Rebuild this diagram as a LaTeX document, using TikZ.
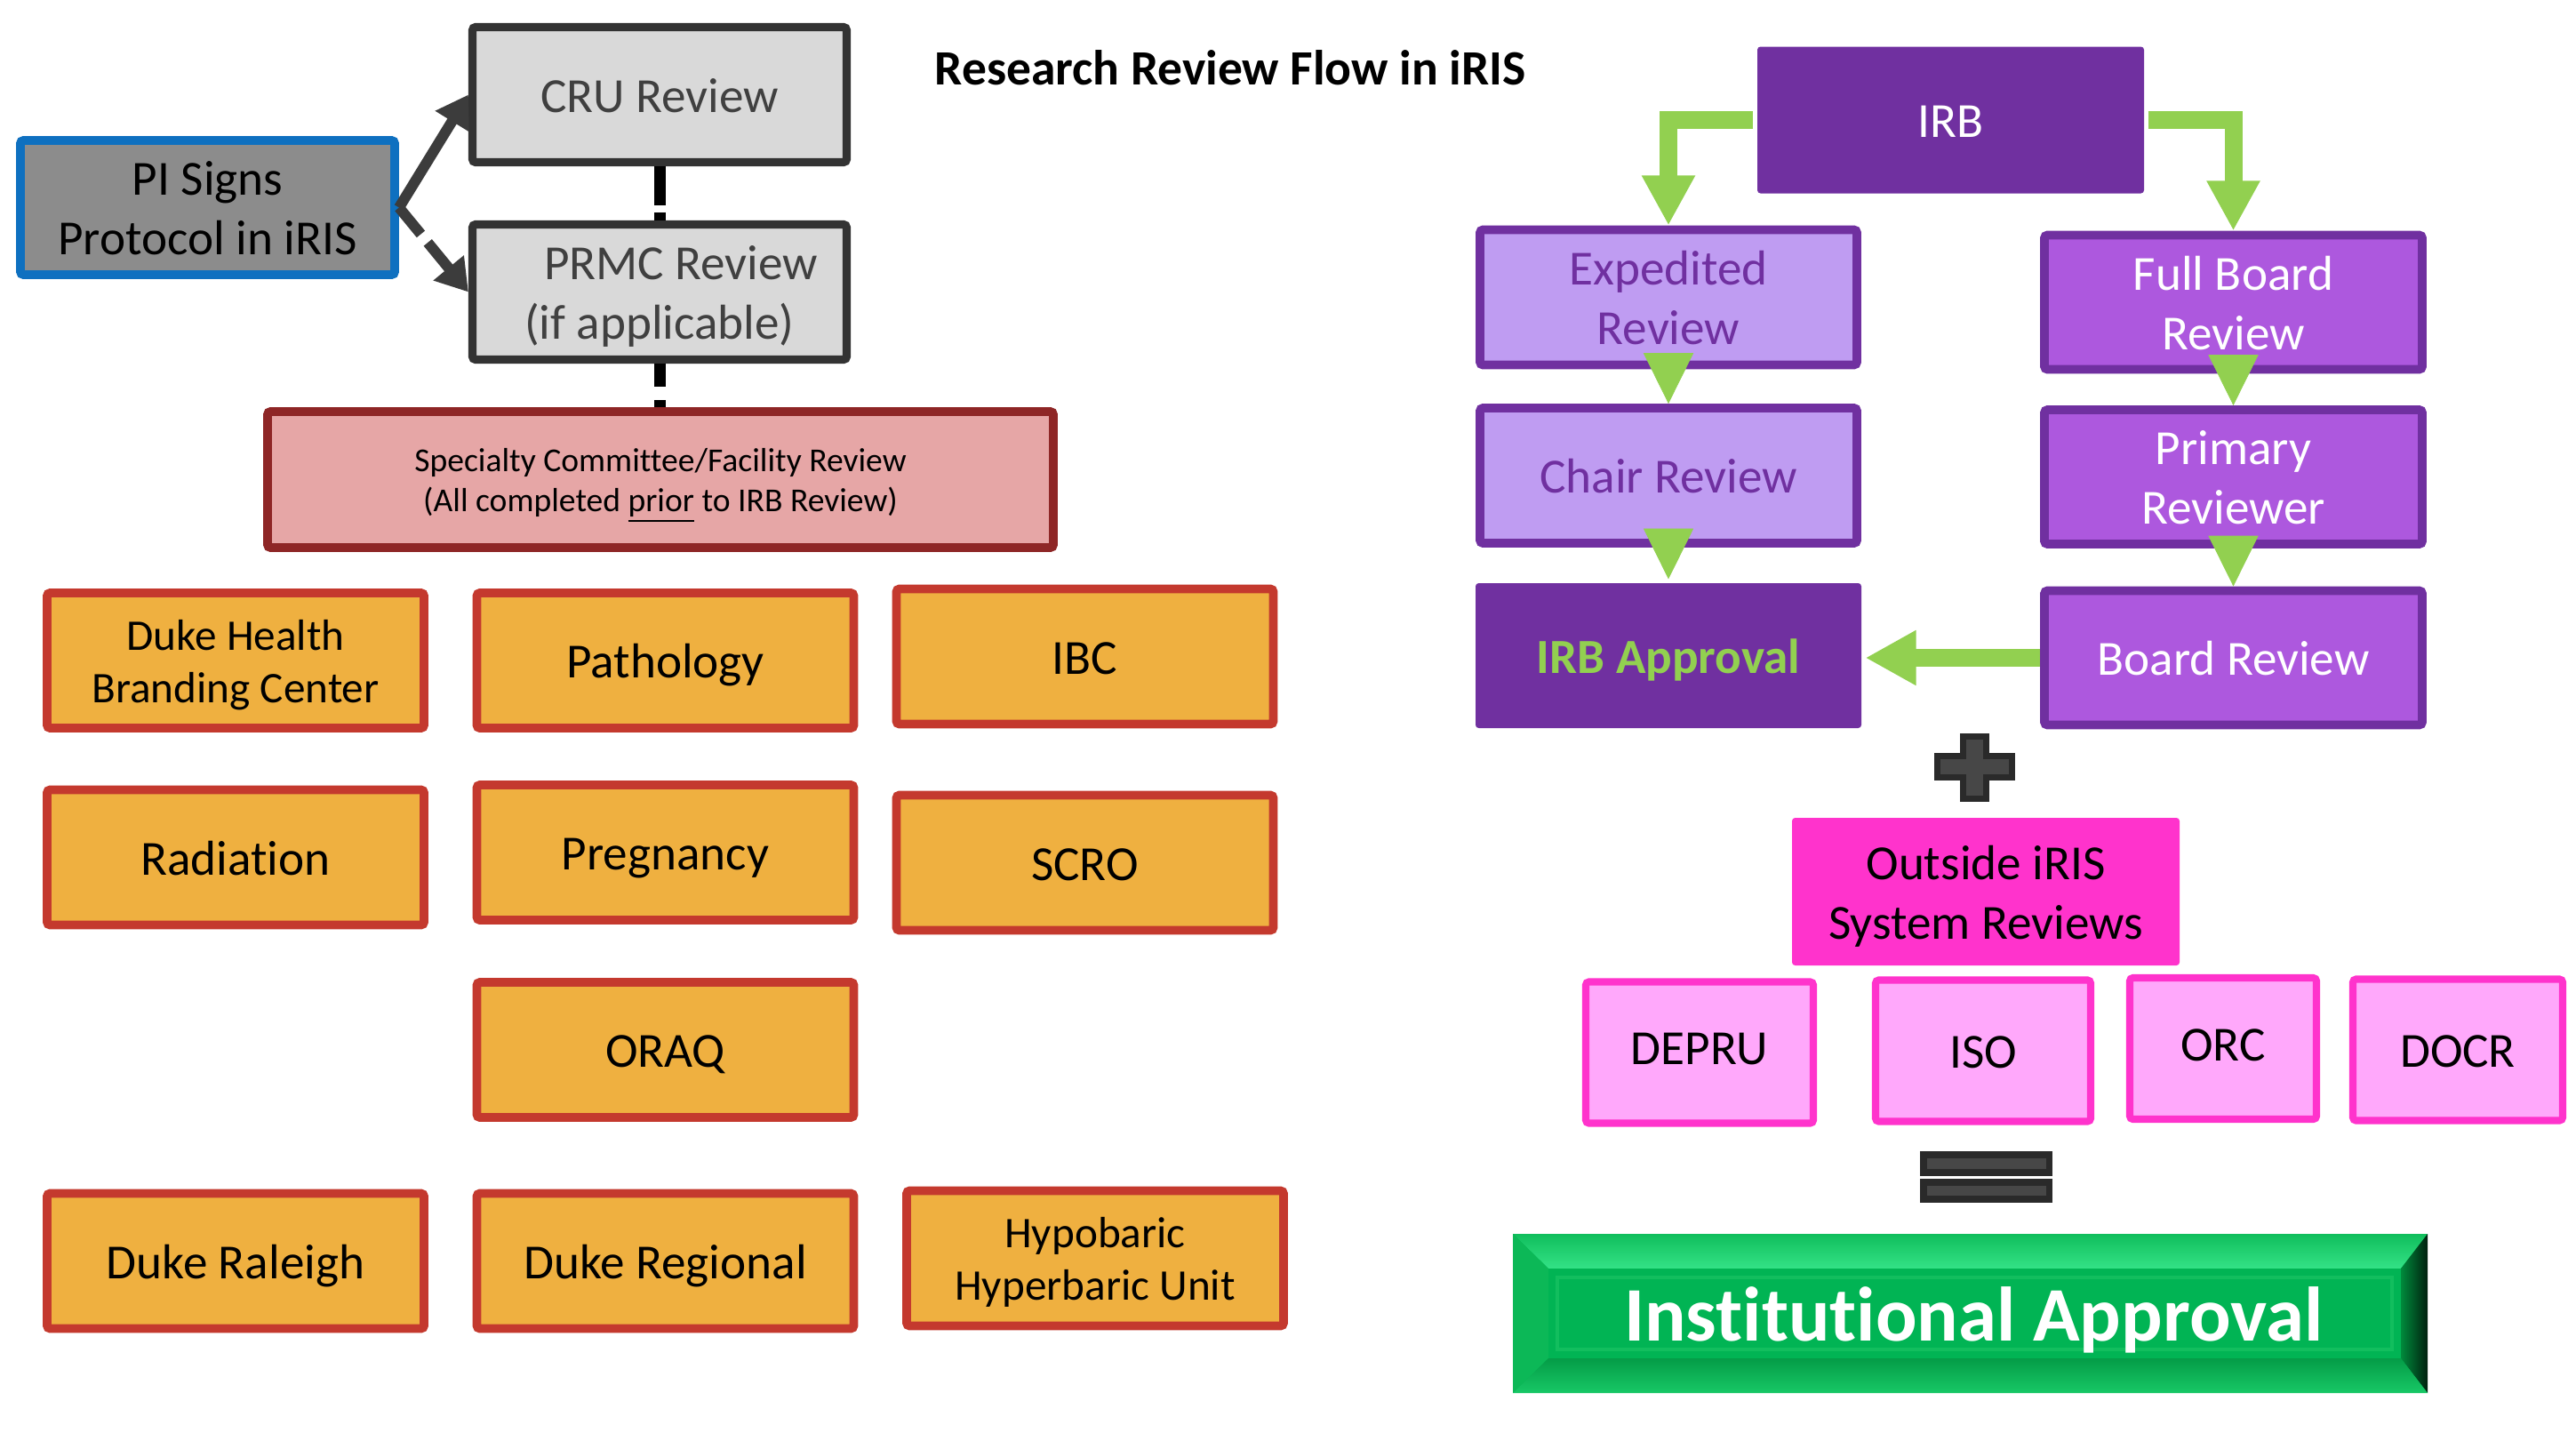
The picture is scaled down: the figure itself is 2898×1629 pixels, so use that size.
\documentclass[tikz,border=0pt]{standalone}
\usepackage{fontspec}
\setmainfont{Carlito}[Ligatures={NoCommon,NoContextual}]
\usetikzlibrary{arrows.meta,calc}
\definecolor{gborder}{HTML}{333333}
\definecolor{gfill}{HTML}{D9D9D9}
\definecolor{gtext}{HTML}{404040}
\definecolor{pifill}{HTML}{8C8C8C}
\definecolor{piblue}{HTML}{0E70C0}
\definecolor{specfill}{HTML}{E6A6A6}
\definecolor{specborder}{HTML}{8E2626}
\definecolor{ofill}{HTML}{EFB040}
\definecolor{oborder}{HTML}{C4392E}
\definecolor{pdark}{HTML}{7030A0}
\definecolor{plight}{HTML}{BF9CF2}
\definecolor{pmid}{HTML}{AD58DE}
\definecolor{agreen}{HTML}{92D050}
\definecolor{hotpink}{HTML}{FF33CC}
\definecolor{lpink}{HTML}{FFA8FB}
\definecolor{arrgray}{HTML}{3C3C3C}
\definecolor{signdark}{HTML}{2A2A2A}
\definecolor{signlight}{HTML}{474747}
\definecolor{instgreen}{HTML}{00B050}
\definecolor{insttopA}{HTML}{10BE5C}
\definecolor{insttopB}{HTML}{34E286}
\definecolor{instleft}{HTML}{0CB857}
\definecolor{instrightA}{HTML}{008A3C}
\definecolor{instrightB}{HTML}{00200E}
\definecolor{instbotA}{HTML}{049C47}
\definecolor{instbotB}{HTML}{18C866}
\definecolor{instface}{HTML}{01B454}
\definecolor{instrim}{HTML}{12BE5E}
\newcommand\fmain{\fontsize{15.7}{19}\selectfont}
\newcommand\fsmaller{\fontsize{14}{16.8}\selectfont}
\newcommand\fspec{\fontsize{10.7}{12.6}\selectfont}
\newcommand\ftitle{\fontsize{15.8}{19}\selectfont\bfseries}
\newcommand\finst{\fontsize{24.7}{30}\selectfont\bfseries}
\begin{document}
\begin{tikzpicture}[x=0.1mm,y=-0.1mm,
  box/.style={line width=2.6pt, rounded corners=1pt, inner sep=0pt, align=center, font=\fmain},
  one/.style={text height=15.2pt, text depth=3.9pt},
  two/.style={text height=34.2pt, text depth=3.9pt},
  twos/.style={text height=30.4pt, text depth=3.5pt},
  graybox/.style={box, one, draw=gborder, fill=gfill, text=gtext, minimum width=42.1mm, minimum height=15.2mm},
  pibox/.style={box, two, draw=piblue, line width=2.8pt, fill=pifill, text=black, minimum width=42.1mm, minimum height=15.1mm},
  specbox/.style={box, draw=specborder, line width=2.8pt, fill=specfill, text=black, font=\fspec, text height=23pt, text depth=2.7pt, minimum width=88.4mm, minimum height=15.3mm},
  obox/.style={box, one, draw=oborder, line width=2.8pt, fill=ofill, text=black, minimum width=42.4mm, minimum height=15.2mm},
  pdarkbox/.style={box, one, draw=none, fill=pdark, minimum width=43.5mm, minimum height=16.5mm},
  plightbox/.style={box, one, draw=pdark, line width=2.8pt, fill=plight, text=pdark, minimum width=42.4mm, minimum height=15.2mm},
  pmidbox/.style={box, one, draw=pdark, line width=2.8pt, fill=pmid, text=white, minimum width=42.5mm, minimum height=15.1mm},
  outbox/.style={box, two, draw=none, fill=hotpink, text=black, minimum width=43.6mm, minimum height=16.6mm},
  pinkbox/.style={box, one, draw=hotpink, line width=2.3pt, fill=lpink, text=black, minimum height=15.9mm},
  piarrow/.style={draw=arrgray, line width=3.4pt, -{Triangle[width=12pt,length=10pt]}},
  blackdash/.style={draw=black, line width=3.7pt},
  garrow/.style={draw=agreen, line width=5.7pt, -{Triangle[width=16pt,length=16pt]}},
  gtri/.style={draw=agreen, line width=0.2pt, -{Triangle[width=16pt,length=16.2pt]}}
]
\useasboundingbox (0,0) rectangle (2898,1629);
\fill[white] (0,0) rectangle (2898,1629);

% title
\node[anchor=base west, font=\ftitle, inner sep=0pt] (title) at (1051,95) {Research Review Flow in iRIS};

% left part
\node[pibox] (pi) at (233.5,233.5) {PI Signs\\Protocol in iRIS};
\node[graybox] (cru) at (742,106.5) {CRU Review};
\node[graybox, two] (prmc) at (742,328.5) {\hspace*{4.8mm}PRMC Review\\(if applicable)};
\node[specbox] (spec) at (743,539.5) {Specialty Committee/Facility Review\\(All completed \underline{prior} to IRB Review)};

\draw[piarrow] (pi.east) -- (cru.west);
\draw[piarrow, dash pattern=on 11pt off 3.5pt] (pi.east) -- (prmc.west);
\draw[blackdash, dash pattern=on 12.5pt off 2.2pt] (cru.south) -- (prmc.north);
\draw[blackdash, dash pattern=on 7.5pt off 4.2pt] (prmc.south) -- (prmc.south |- spec.north);

\node[obox, twos, font=\fsmaller] (dh) at (265,743) {Duke Health\\Branding Center};
\node[obox] (patho) at (748.5,743) {Pathology};
\node[obox] (ibc) at (1220.5,738.5) {IBC};
\node[obox] (rad) at (265,964.5) {Radiation};
\node[obox] (preg) at (748.5,959) {Pregnancy};
\node[obox] (scro) at (1220.5,970.5) {SCRO};
\node[obox] (oraq) at (748.5,1181) {ORAQ};
\node[obox] (ral) at (265,1418.5) {Duke Raleigh};
\node[obox] (reg) at (748.5,1418.5) {Duke Regional};
\node[obox, twos, font=\fsmaller] (hyp) at (1232,1415.5) {Hypobaric\\Hyperbaric Unit};

% right part: IRB
\node[pdarkbox, text=white] (irb) at (2194.5,135) {IRB};
\node[plightbox, two] (exp) at (1877,334.5) {Expedited\\Review};
\node[plightbox] (chair) at (1877,535) {Chair Review};
\node[pdarkbox, minimum width=43.4mm, minimum height=16.3mm, text=agreen, font=\fmain\bfseries] (irbapp) at (1877,737.5) {IRB Approval};
\node[pmidbox, two] (full) at (2512.5,340) {Full Board\\Review};
\node[pmidbox, two] (prim) at (2512.5,536.5) {Primary\\Reviewer};
\node[pmidbox] (board) at (2512.5,740) {Board Review};

\draw[garrow] (irb.west) -| (exp.north);
\draw[garrow] (irb.east) -| (full.north);
\draw[gtri] ($(exp.south)+(0,-12)$) -- (chair.north);
\draw[gtri] ($(chair.south)+(0,-8)$) -- (irbapp.north);
\draw[gtri] ($(full.south)+(0,-11)$) -- (prim.north);
\draw[gtri] ($(prim.south)+(0,-6)$) -- (board.north);
\draw[garrow, -{Triangle[width=16.5pt,length=16.2pt]}] (board.west) -- (board.west -| irbapp.east);

% plus sign
\fill[signdark] (2205,825) rectangle (2238,902);
\fill[signdark] (2176,847) rectangle (2267,878);
\fill[signlight] (2212,832) rectangle (2231,895);
\fill[signlight] (2183,854) rectangle (2260,871);

% outside reviews
\node[outbox] (out) at (2234,1003) {Outside iRIS\\System Reviews};
\node[pinkbox, minimum width=25.6mm, text depth=7.5pt] (depru) at (1912,1184) {DEPRU};
\node[pinkbox, minimum width=24.2mm] (iso) at (2231,1182) {ISO};
\node[pinkbox, minimum width=21.0mm, text depth=7pt] (orc) at (2501,1179.5) {ORC};
\node[pinkbox, minimum width=23.6mm] (docr) at (2765,1181) {DOCR};

% equals sign
\fill[signdark] (2160,1295) rectangle (2309,1323);
\fill[signdark] (2160,1326) rectangle (2309,1353);
\fill[signlight] (2168,1303) rectangle (2302,1315);
\fill[signlight] (2168,1334) rectangle (2302,1345);

% institutional approval bevel button
\fill[instgreen] (1702,1388) rectangle (2731,1567);
\shade[top color=insttopA, bottom color=insttopB] (1702,1388) -- (2731,1388) -- (2701,1427) -- (1742,1427) -- cycle;
\fill[instleft] (1702,1388) -- (1742,1427) -- (1742,1528) -- (1702,1567) -- cycle;
\shade[left color=instrightA, right color=instrightB] (2731,1388) -- (2701,1427) -- (2701,1528) -- (2731,1567) -- cycle;
\shade[top color=instbotA, bottom color=instbotB] (1702,1567) -- (1742,1528) -- (2701,1528) -- (2731,1567) -- cycle;
\fill[instface] (1742,1427) rectangle (2701,1528);
\draw[instrim, line width=1pt] (1752,1437) rectangle (2691,1518);
\node[font=\finst, text=white, inner sep=0pt, text height=24pt, text depth=6.2pt] (inst) at (2220,1477.5) {Institutional Approval};
\end{tikzpicture}
\end{document}
